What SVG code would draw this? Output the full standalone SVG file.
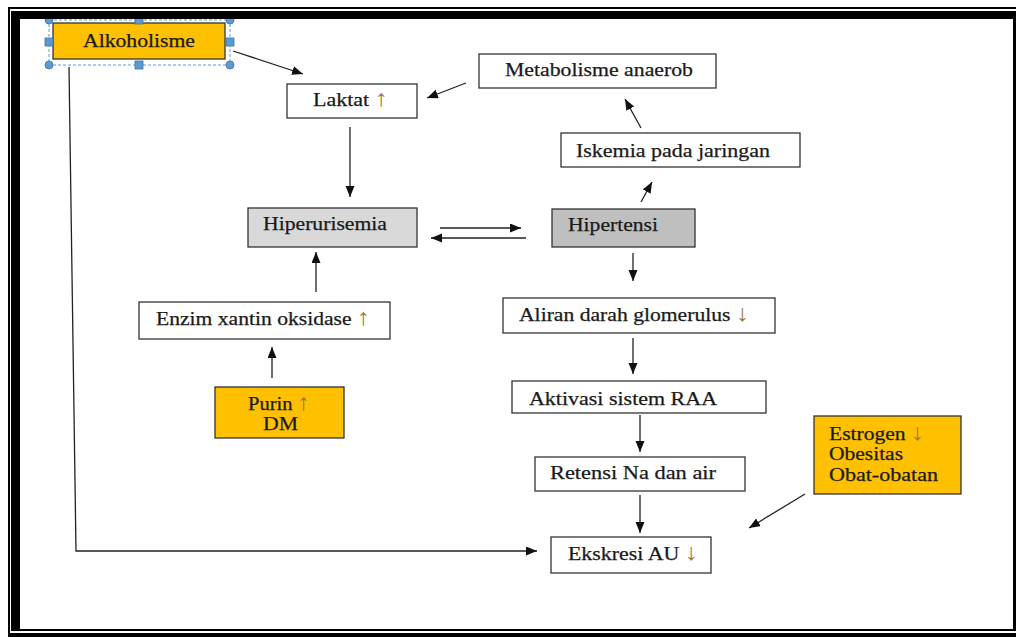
<svg xmlns="http://www.w3.org/2000/svg" width="1016" height="637" viewBox="0 0 1016 637">
<style>
.box{stroke:#333;stroke-width:1.3;fill:#fff}
.org{fill:#FFC000}
.g1{fill:#D9D9D9}
.g2{fill:#BFBFBF}
text{font-family:"Liberation Serif","Times New Roman",serif;font-size:19px;fill:#1a1a1a;stroke:#1a1a1a;stroke-width:0.25}
.ar{fill:#a07840;stroke:none;font-size:23px}
.cn{stroke:#222;stroke-width:1.3;fill:none}
.hd{fill:#5B9BD5;stroke:#41719C;stroke-width:0.8}
</style>
<defs>
<marker id="ah" markerUnits="userSpaceOnUse" markerWidth="12" markerHeight="10" refX="11" refY="4.5" orient="auto">
<path d="M0,0 L11,4.5 L0,9 Z" fill="#111"/>
</marker>
</defs>
<rect x="0" y="0" width="1016" height="637" fill="#fff"/>

<g id="connectors">
<line class="cn" x1="233" y1="51" x2="303" y2="74" marker-end="url(#ah)"/>
<line class="cn" x1="466" y1="83" x2="427" y2="98" marker-end="url(#ah)"/>
<line class="cn" x1="641" y1="128" x2="625" y2="99" marker-end="url(#ah)"/>
<line class="cn" x1="641" y1="202" x2="652" y2="182" marker-end="url(#ah)"/>
<line class="cn" x1="350" y1="127" x2="350" y2="197" marker-end="url(#ah)"/>
<line class="cn" x1="440" y1="228" x2="521" y2="228" marker-end="url(#ah)"/>
<line class="cn" x1="526" y1="238" x2="431" y2="238" marker-end="url(#ah)"/>
<line class="cn" x1="316" y1="292" x2="316" y2="252" marker-end="url(#ah)"/>
<line class="cn" x1="272" y1="378" x2="272" y2="347" marker-end="url(#ah)"/>
<line class="cn" x1="633" y1="253" x2="633" y2="281" marker-end="url(#ah)"/>
<line class="cn" x1="633" y1="338" x2="633" y2="374" marker-end="url(#ah)"/>
<line class="cn" x1="640" y1="415" x2="640" y2="452" marker-end="url(#ah)"/>
<line class="cn" x1="640" y1="495" x2="640" y2="533" marker-end="url(#ah)"/>
<line class="cn" x1="805" y1="494" x2="749" y2="528" marker-end="url(#ah)"/>
<polyline class="cn" points="69,67 76,551 537,551" marker-end="url(#ah)"/>
</g>

<g id="alkoholisme">
<rect class="box org" x="53" y="23" width="172" height="36"/>
<text x="83" y="47" textLength="112" lengthAdjust="spacingAndGlyphs">Alkoholisme</text>
<rect x="49" y="20" width="181" height="45" fill="none" stroke="#5B9BD5" stroke-width="1" stroke-dasharray="3,2"/>
<circle class="hd" cx="49" cy="20" r="4"/>
<circle class="hd" cx="230" cy="20" r="4"/>
<circle class="hd" cx="49" cy="65" r="4"/>
<circle class="hd" cx="230" cy="65" r="4"/>
<rect class="hd" x="135" y="16" width="8" height="8"/>
<rect class="hd" x="135" y="61" width="8" height="8"/>
<rect class="hd" x="45" y="38" width="8" height="8"/>
<rect class="hd" x="226" y="38" width="8" height="8"/>
</g>

<g id="laktat">
<rect class="box" x="287" y="84" width="130" height="34"/>
<text x="313" y="106" textLength="75" lengthAdjust="spacingAndGlyphs">Laktat <tspan class="ar">↑</tspan></text>
</g>

<g id="metabolisme">
<rect class="box" x="479" y="54" width="237" height="34"/>
<text x="505" y="76" textLength="188" lengthAdjust="spacingAndGlyphs">Metabolisme anaerob</text>
</g>

<g id="iskemia">
<rect class="box" x="561" y="133" width="239" height="34"/>
<text x="576" y="157" textLength="194" lengthAdjust="spacingAndGlyphs">Iskemia pada jaringan</text>
</g>

<g id="hiperurisemia">
<rect class="box g1" x="248" y="208" width="169" height="39"/>
<text x="263" y="230" textLength="124" lengthAdjust="spacingAndGlyphs">Hiperurisemia</text>
</g>

<g id="hipertensi">
<rect class="box g2" x="552" y="209" width="143" height="38"/>
<text x="568" y="231" textLength="90" lengthAdjust="spacingAndGlyphs">Hipertensi</text>
</g>

<g id="enzim">
<rect class="box" x="139" y="302" width="251" height="37"/>
<text x="156" y="325" textLength="214" lengthAdjust="spacingAndGlyphs">Enzim xantin oksidase <tspan class="ar">↑</tspan></text>
</g>

<g id="purin">
<rect class="box org" x="215" y="387" width="129" height="51"/>
<text x="248" y="410" textLength="62" lengthAdjust="spacingAndGlyphs">Purin <tspan class="ar">↑</tspan></text>
<text x="263" y="430" textLength="35" lengthAdjust="spacingAndGlyphs">DM</text>
</g>

<g id="aliran">
<rect class="box" x="503" y="298" width="272" height="35"/>
<text x="519" y="321" textLength="230" lengthAdjust="spacingAndGlyphs">Aliran darah glomerulus <tspan class="ar">↓</tspan></text>
</g>

<g id="aktivasi">
<rect class="box" x="512" y="381" width="254" height="32"/>
<text x="529" y="405" textLength="188" lengthAdjust="spacingAndGlyphs">Aktivasi sistem RAA</text>
</g>

<g id="retensi">
<rect class="box" x="535" y="457" width="210" height="34"/>
<text x="550" y="479" textLength="166" lengthAdjust="spacingAndGlyphs">Retensi Na dan air</text>
</g>

<g id="ekskresi">
<rect class="box" x="551" y="537" width="160" height="36"/>
<text x="568" y="560" textLength="130" lengthAdjust="spacingAndGlyphs">Ekskresi AU <tspan class="ar">↓</tspan></text>
</g>

<g id="estrogen">
<rect class="box org" x="814" y="416" width="147" height="78"/>
<text x="829" y="440" textLength="95" lengthAdjust="spacingAndGlyphs">Estrogen <tspan class="ar">↓</tspan></text>
<text x="829" y="460" textLength="74" lengthAdjust="spacingAndGlyphs">Obesitas</text>
<text x="829" y="481" textLength="109" lengthAdjust="spacingAndGlyphs">Obat-obatan</text>
</g>

<g id="frame">
<rect x="0" y="0" width="1016" height="7" fill="#fff"/>
<rect x="0" y="0" width="8" height="637" fill="#fff"/>
<rect x="8" y="7" width="1008" height="2" fill="#000"/>
<rect x="8" y="7" width="2" height="630" fill="#000"/>
<rect x="11" y="11" width="1005" height="8" fill="#000"/>
<rect x="11" y="11" width="9" height="620" fill="#000"/>
<rect x="1013" y="11" width="3" height="620" fill="#000"/>
<rect x="11" y="629" width="1005" height="2" fill="#000"/>
<rect x="8" y="633" width="1008" height="4" fill="#000"/>
</g>
</svg>
